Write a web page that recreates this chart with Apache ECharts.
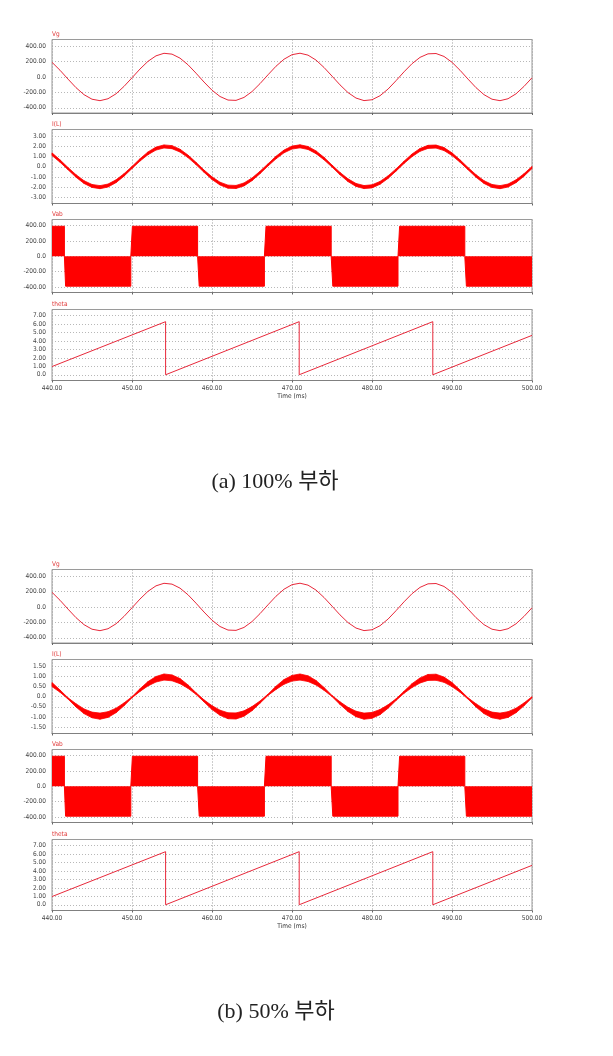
<!DOCTYPE html>
<html><head><meta charset="utf-8">
<script src="https://cdn.jsdelivr.net/npm/echarts@6/dist/echarts.min.js"></script>
<style>html,body{margin:0;padding:0;background:#fff}#c{width:613px;height:1056px}</style>
</head><body><div id="c"></div>
<script>
// ---- data ----
const timeMs = [440,441,442,443,444,445,446,447,448,449,450,451,452,453,454,455,456,457,458,459,460,461,462,463,464,465,466,467,468,469,470,471,472,473,474,475,476,477,478,479,480,481,482,483,484,485,486,487,488,489,490,491,492,493,494,495,496,497,498,499,500];
const vg = [190,87,-28,-139,-230,-289,-308,-283,-219,-123,-11,103,203,274,307,296,244,158,49,-66,-172,-254,-300,-304,-266,-190,-87,28,139,230,289,308,283,219,123,11,-103,-203,-274,-307,-296,-244,-158,-49,66,172,254,300,304,266,190,87,-28,-139,-230,-289,-308,-283,-219,-123,-11];
const iLa = [1.23,0.56,-0.18,-0.90,-1.50,-1.88,-2.00,-1.84,-1.42,-0.80,-0.07,0.67,1.32,1.78,1.99,1.92,1.58,1.02,0.32,-0.43,-1.12,-1.65,-1.95,-1.98,-1.73,-1.23,-0.56,0.18,0.90,1.50,1.88,2.00,1.84,1.42,0.80,0.07,-0.67,-1.32,-1.78,-1.99,-1.92,-1.58,-1.02,-0.32,0.43,1.12,1.65,1.95,1.98,1.73,1.23,0.56,-0.18,-0.90,-1.50,-1.88,-2.00,-1.84,-1.42,-0.80,-0.07];
const iLaBand = [0.26,0.23,0.21,0.25,0.27,0.29,0.30,0.29,0.27,0.24,0.20,0.23,0.27,0.29,0.30,0.30,0.28,0.25,0.22,0.22,0.26,0.28,0.30,0.30,0.29,0.26,0.23,0.21,0.25,0.27,0.29,0.30,0.29,0.27,0.24,0.20,0.23,0.27,0.29,0.30,0.30,0.28,0.25,0.22,0.22,0.26,0.28,0.30,0.30,0.29,0.26,0.23,0.21,0.25,0.27,0.29,0.30,0.29,0.27,0.24,0.20];
const iLb = [0.59,0.27,-0.09,-0.43,-0.72,-0.90,-0.96,-0.88,-0.68,-0.38,-0.03,0.32,0.63,0.85,0.96,0.92,0.76,0.49,0.15,-0.21,-0.54,-0.79,-0.94,-0.95,-0.83,-0.59,-0.27,0.09,0.43,0.72,0.90,0.96,0.88,0.68,0.38,0.03,-0.32,-0.63,-0.85,-0.96,-0.92,-0.76,-0.49,-0.15,0.21,0.54,0.79,0.94,0.95,0.83,0.59,0.27,-0.09,-0.43,-0.72,-0.90,-0.96,-0.88,-0.68,-0.38,-0.03];
const iLbBand = [0.20,0.11,0.06,0.16,0.23,0.28,0.30,0.28,0.22,0.14,0.05,0.13,0.21,0.27,0.30,0.29,0.25,0.17,0.08,0.10,0.19,0.25,0.29,0.30,0.26,0.20,0.11,0.06,0.16,0.23,0.28,0.30,0.28,0.22,0.14,0.05,0.13,0.21,0.27,0.30,0.29,0.25,0.17,0.08,0.10,0.19,0.25,0.29,0.30,0.26,0.20,0.11,0.06,0.16,0.23,0.28,0.30,0.28,0.22,0.14,0.05];
const vabTime = [440,441.55,441.55,441.7,441.7,449.85,449.85,450.05,450.05,458.2,458.2,458.4,458.4,466.55,466.55,466.75,466.75,474.9,474.9,475.1,475.1,483.25,483.25,483.45,483.45,491.6,491.6,491.8,491.8,500];
const vabValue = [390,390,0,0,-388,-388,0,0,390,390,0,0,-388,-388,0,0,390,390,0,0,-388,-388,0,0,390,390,0,0,-388,-388];
const thetaTime = [440,454.2,454.2,470.9,470.9,487.6,487.6,500];
const thetaValue = [0.97,6.28,0,6.28,0,6.28,0,4.66];
const vgTicks = [-400,-200,0,200,400];
const iLaTicks = [-3,-2,-1,0,1,2,3];
const iLbTicks = [-1.5,-1,-0.5,0,0.5,1,1.5];
const vabTicks = [-400,-200,0,200,400];
const thetaTicks = [0,1,2,3,4,5,6,7];
const panelTitles = ['Vg','I(L)','Vab','theta'];
const captions = ['(a) 100% 부하','(b) 50% 부하'];
const xName = 'Time (ms)';

// ---- layout ----
const RED = '#ff0000';
const THIN = '#e8283a';
const LBL_FONT = "'Liberation Sans Narrow','DejaVu Sans Condensed','Liberation Sans',sans-serif";
const figOffsets = [0, 530];
const panelGeom = [
  {top: 39.5, height: 73.5, min: -468, max: 486},
  {top: 129.5, height: 74, min: -3.6, max: 3.65},
  {top: 219.5, height: 73, min: -470, max: 478},
  {top: 309.5, height: 71, min: -0.68, max: 7.72}
];
const fmt = v => v === 0 ? '0.0' : v.toFixed(2);

// band segments: [t0, lo0, hi0, t1, lo1, hi1]
function bandSegments(center, width) {
  const out = [];
  for (let i = 0; i < timeMs.length - 1; i++) {
    out.push([timeMs[i], center[i] - width[i] / 2, center[i] + width[i] / 2,
              timeMs[i + 1], center[i + 1] - width[i + 1] / 2, center[i + 1] + width[i + 1] / 2]);
  }
  return out;
}
function renderBand(params, api) {
  const p0 = api.coord([api.value(0), api.value(1)]);
  const p1 = api.coord([api.value(3), api.value(4)]);
  const p2 = api.coord([api.value(3), api.value(5)]);
  const p3 = api.coord([api.value(0), api.value(2)]);
  return {type: 'polygon', shape: {points: [p0, p1, p2, p3]},
    style: {fill: RED, stroke: RED, lineWidth: 0.8, lineJoin: 'round'}};
}

const grids = [], xAxes = [], yAxes = [], series = [], graphics = [];
figOffsets.forEach((off, f) => {
  const tickSets = [vgTicks, f === 0 ? iLaTicks : iLbTicks, vabTicks, thetaTicks];
  panelGeom.forEach((g, p) => {
    const idx = grids.length;
    let min = g.min, max = g.max;
    if (p === 1 && f === 1) { min = -1.81; max = 1.82; }
    grids.push({left: 52, top: g.top + off, width: 480, height: g.height, show: true,
      borderColor: '#9a9a9a', borderWidth: 1, backgroundColor: 'transparent', outerBoundsMode: 'none'});
    xAxes.push({gridIndex: idx, type: 'value', min: 440, max: 500, interval: 10,
      axisLine: {show: true, onZero: false, lineStyle: {color: '#808080', width: 1}},
      axisTick: {show: true, length: 2, lineStyle: {color: '#666'}},
      axisLabel: {show: p === 3, formatter: v => v.toFixed(2), fontSize: 6.5, color: '#444', margin: 4, fontFamily: LBL_FONT},
      splitLine: {show: true, lineStyle: {type: [1, 2], color: '#9a9a9a', width: 1}},
      name: p === 3 ? xName : '', nameLocation: 'middle', nameGap: 11,
      nameTextStyle: {fontSize: 6.5, color: '#333', fontFamily: LBL_FONT}
    });
    yAxes.push({gridIndex: idx, type: 'value', min: min, max: max,
      axisLine: {show: false}, axisTick: {show: false, customValues: tickSets[p]},
      axisLabel: {customValues: tickSets[p], formatter: fmt, fontSize: 6.5, color: '#444', margin: 6, fontFamily: LBL_FONT},
      splitLine: {show: true, lineStyle: {type: [1, 2], color: '#b8b8b8', width: 1}},
      name: panelTitles[p], nameLocation: 'end', nameGap: 2,
      nameTextStyle: {align: 'left', verticalAlign: 'bottom', fontSize: 6.5, color: '#e03a3a', fontFamily: LBL_FONT, padding: 0}
    });
    if (p === 0) {
      series.push({type: 'line', xAxisIndex: idx, yAxisIndex: idx, symbol: 'none', silent: true,
        data: timeMs.map((t, i) => [t, vg[i]]), lineStyle: {color: THIN, width: 1}});
    } else if (p === 1) {
      const c = f === 0 ? iLa : iLb, w = f === 0 ? iLaBand : iLbBand;
      series.push({type: 'custom', xAxisIndex: idx, yAxisIndex: idx, silent: true,
        data: bandSegments(c, w), encode: {x: [0, 3], y: [1, 2, 4, 5]}, renderItem: renderBand});
    } else if (p === 2) {
      series.push({type: 'line', xAxisIndex: idx, yAxisIndex: idx, symbol: 'none', silent: true,
        data: vabTime.map((t, i) => [t, vabValue[i]]), lineStyle: {color: RED, width: 1},
        areaStyle: {color: RED, opacity: 1}});
    } else {
      series.push({type: 'line', xAxisIndex: idx, yAxisIndex: idx, symbol: 'none', silent: true,
        data: thetaTime.map((t, i) => [t, thetaValue[i]]), lineStyle: {color: THIN, width: 1}});
    }
  });
});
const capFont = "22px 'Liberation Serif','Noto Sans CJK KR',serif";
graphics.push({type: 'text', x: 275, y: 482, style: {text: captions[0], font: capFont, fill: '#222',
  textAlign: 'center', textVerticalAlign: 'middle'}});
graphics.push({type: 'text', x: 276, y: 1012, style: {text: captions[1], font: capFont, fill: '#222',
  textAlign: 'center', textVerticalAlign: 'middle'}});

const chart = echarts.init(document.getElementById('c'), null, {renderer: 'canvas'});
chart.setOption({animation: false, backgroundColor: '#fff', grid: grids, xAxis: xAxes, yAxis: yAxes, series: series, graphic: graphics});
</script></body></html>
